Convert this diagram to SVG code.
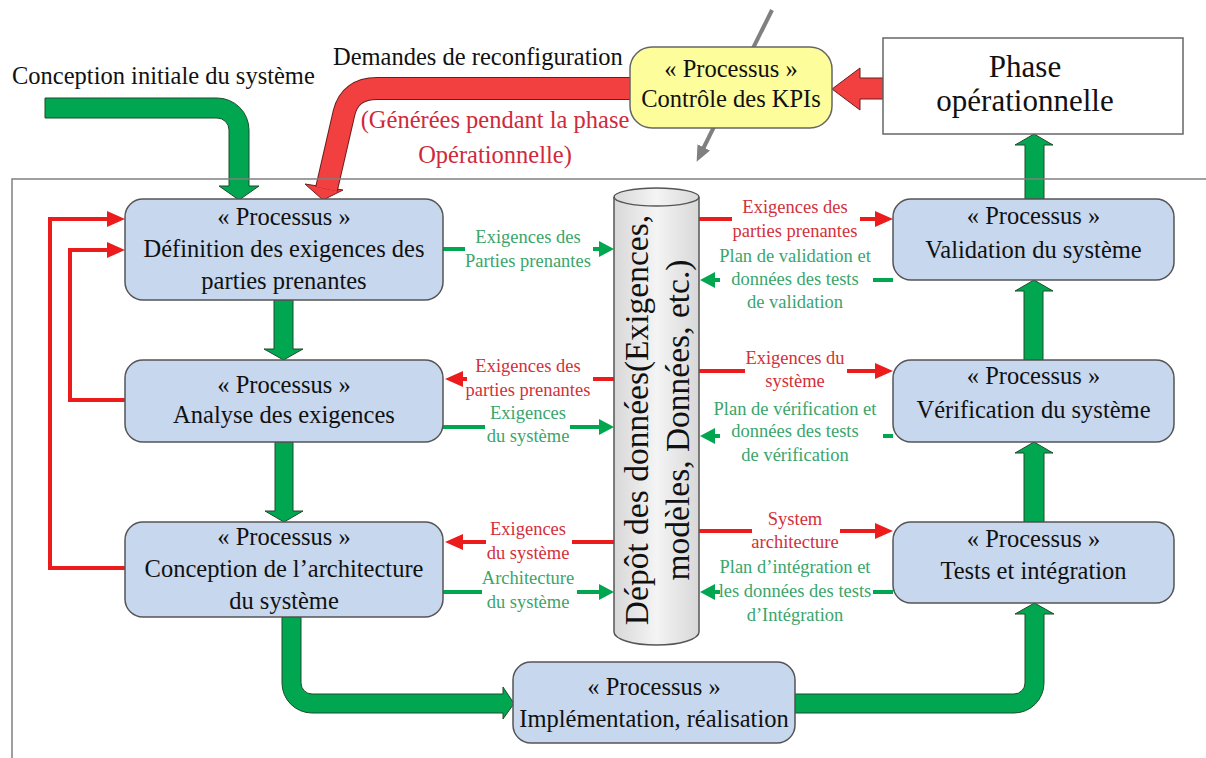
<svg xmlns="http://www.w3.org/2000/svg" width="1206" height="758" viewBox="0 0 1206 758">
<style>
text{font-family:"Liberation Serif","Times New Roman",serif}
.t{font-size:24.5px;fill:#111;text-anchor:middle}
.h{font-size:24.5px;fill:#111}
.hr{font-size:24.5px;fill:#cf2a3a;text-anchor:middle}
.ph{font-size:31px;fill:#111;text-anchor:middle}
.lg{font-size:18.5px;fill:#3aa56c;text-anchor:middle}
.lr{font-size:18.5px;fill:#d3303a;text-anchor:middle}
.cyl{font-size:33.5px;fill:#111;text-anchor:middle}
.node{fill:#c6d7ee;stroke:#555;stroke-width:1.5}
.gthick{fill:#00a650;stroke:#1f4d2a;stroke-width:1}
.rthick{fill:#f23f3f;stroke:#6a1f1f;stroke-width:1}
.rl{fill:none;stroke:#ec1c1c;stroke-width:4}
.gl{fill:none;stroke:#00a650;stroke-width:4}
.rla{fill:none;stroke:#ec1c1c;stroke-width:4;marker-end:url(#ar)}
.gla{fill:none;stroke:#00a650;stroke-width:4;marker-end:url(#ag)}
</style>
<defs>
<marker id="ar" viewBox="0 0 18 16" refX="5" refY="8" markerWidth="18" markerHeight="16" markerUnits="userSpaceOnUse" orient="auto"><path d="M0,0 L18,8 L0,16 Z" fill="#ec1c1c"/></marker>
<marker id="ag" viewBox="0 0 15 16" refX="4" refY="8" markerWidth="15" markerHeight="16" markerUnits="userSpaceOnUse" orient="auto"><path d="M0,0 L15,8 L0,16 Z" fill="#00a650"/></marker>
<marker id="agr" viewBox="0 0 16 14" refX="4" refY="7" markerWidth="16" markerHeight="14" markerUnits="userSpaceOnUse" orient="auto"><path d="M0,0 L16,7 L0,14 Z" fill="#808080"/></marker>
<linearGradient id="cylg" x1="0" y1="0" x2="1" y2="0"><stop offset="0" stop-color="#d8d8d8"/><stop offset="0.5" stop-color="#f4f4f4"/><stop offset="1" stop-color="#d8d8d8"/></linearGradient>
</defs>
<rect width="1206" height="758" fill="#fff"/>

<text class="h" x="12" y="84">Conception initiale du système</text>
<text class="h" x="333" y="65">Demandes de reconfiguration</text>
<text class="hr" x="495" y="128">(Générées pendant la phase</text>
<text class="hr" x="495" y="163">Opérationnelle)</text>

<g id="connectors">
<!-- thick arrows -->
<path class="gthick" d="M45,98 H217 A32,32 0 0 1 249,130 V186 H259 L239,200 L219,186 H229 V130 A12,12 0 0 0 217,118 H45 Z"/>
<polygon class="rthick" points="305,184 343,190 323,200"/>
<path d="M640,88.5 H377 Q350,88.5 344,113 L326.5,189" fill="none" stroke="#6a1f1f" stroke-width="23"/>
<path d="M640,88.5 H377 Q350,88.5 344,113 L326.5,189" fill="none" stroke="#f23f3f" stroke-width="21"/>
<polygon class="rthick" points="883,78 860,78 860,68 832,89 860,110 860,99 883,99"/>
<path d="M772,10 L702,151" fill="none" stroke="#808080" stroke-width="4" marker-end="url(#agr)"/>
<polygon class="gthick" points="274,300 293,300 293,349 303,349 283.5,360 264,349 274,349"/>
<polygon class="gthick" points="275,442 293,442 293,511 303,511 284,522 265,511 275,511"/>
<path class="gthick" d="M282,617 V683 A30,30 0 0 0 312,713 H503 V719 L514,703.5 L503,687 V694 H312 A11,11 0 0 1 301,683 V617 Z"/>
<path class="gthick" d="M795,694 H1014 A11,11 0 0 0 1025,683 V614 H1015 L1034.5,603 L1054,614 H1044 V683 A30,30 0 0 1 1014,713 H795 Z"/>
<polygon class="gthick" points="1024,522 1044,522 1044,453 1053,453 1034,442 1015,453 1024,453"/>
<polygon class="gthick" points="1024,360 1043,360 1043,291 1053,291 1034,280 1015,291 1024,291"/>
<polygon class="gthick" points="1025,199 1044,199 1044,145 1053,145 1034,134 1015,145 1025,145"/>
<!-- frame -->
<path d="M12,758 V179 H1206" fill="none" stroke="#808080" stroke-width="1.5"/>
<!-- feedback -->
<path class="rla" d="M125,568 H50 V219 H112"/>
<path class="rla" d="M125,400 H70 V250 H112"/>
<!-- left thin -->
<path class="gl" d="M443,249 H465"/><path class="gla" d="M593,249 H603"/>
<path class="rl" d="M593,379 H614"/><path class="rla" d="M467,379 H458"/>
<path class="gl" d="M443,427 H485"/><path class="gla" d="M570,427 H603"/>
<path class="rl" d="M572,542 H614"/><path class="rla" d="M486,542 H458"/>
<path class="gl" d="M443,592 H482"/><path class="gla" d="M577,592 H603"/>
<!-- right thin -->
<path class="rl" d="M698,219 H732"/><path class="rla" d="M860,219 H880"/>
<path class="gl" d="M873,280 H893"/><path class="gla" d="M720,280 H711"/>
<path class="rl" d="M698,371 H745"/><path class="rla" d="M847,371 H880"/>
<path class="gl" d="M883,436 H893"/><path class="gla" d="M720,436 H711"/>
<path class="rl" d="M698,531 H752"/><path class="rla" d="M840,531 H880"/>
<path class="gl" d="M873,592 H893"/><path class="gla" d="M720,592 H711"/>
<!-- labels -->
<text class="lg" x="528" y="243">Exigences des</text><text class="lg" x="528" y="267">Parties prenantes</text>
<text class="lr" x="528" y="372">Exigences des</text><text class="lr" x="528" y="396">parties prenantes</text>
<text class="lg" x="528" y="419">Exigences</text><text class="lg" x="528" y="442">du système</text>
<text class="lr" x="528" y="535">Exigences</text><text class="lr" x="528" y="559">du système</text>
<text class="lg" x="528" y="584">Architecture</text><text class="lg" x="528" y="608">du système</text>
<text class="lr" x="795" y="213">Exigences des</text><text class="lr" x="795" y="237">parties prenantes</text>
<text class="lg" x="795" y="262">Plan de validation et</text><text class="lg" x="795" y="285">données des tests</text><text class="lg" x="795" y="308">de validation</text>
<text class="lr" x="795" y="364">Exigences du</text><text class="lr" x="795" y="387">système</text>
<text class="lg" x="795" y="415">Plan de vérification et</text><text class="lg" x="795" y="437">données des tests</text><text class="lg" x="795" y="461">de vérification</text>
<text class="lr" x="795" y="525">System</text><text class="lr" x="795" y="548">architecture</text>
<text class="lg" x="795" y="573">Plan d’intégration et</text><text class="lg" x="795" y="597">les données des tests</text><text class="lg" x="795" y="621">d’Intégration</text>
</g>

<g id="kpi">
<rect x="630" y="47" width="202" height="81" rx="22" fill="#fdfd9c" stroke="#666" stroke-width="1.5"/>
<text class="t" x="731" y="77">« Processus »</text>
<text class="t" x="731" y="107">Contrôle des KPIs</text>
</g>
<g id="phase">
<rect x="883" y="38" width="300" height="96" fill="#fff" stroke="#666" stroke-width="1.5"/>
<text class="ph" x="1025" y="77">Phase</text>
<text class="ph" x="1025" y="111">opérationnelle</text>
</g>
<g id="n-definition">
<rect class="node" x="125" y="199" width="318" height="101" rx="18"/>
<text class="t" x="284" y="225">« Processus »</text>
<text class="t" x="284" y="257">Définition des exigences des</text>
<text class="t" x="284" y="289">parties prenantes</text>
</g>
<g id="n-analyse">
<rect class="node" x="125" y="360" width="318" height="82" rx="18"/>
<text class="t" x="284" y="393">« Processus »</text>
<text class="t" x="284" y="423">Analyse des exigences</text>
</g>
<g id="n-architecture">
<rect class="node" x="125" y="522" width="318" height="95" rx="18"/>
<text class="t" x="284" y="545">« Processus »</text>
<text class="t" x="284" y="577">Conception de l’architecture</text>
<text class="t" x="284" y="609">du système</text>
</g>
<g id="n-implementation">
<rect class="node" x="513" y="662" width="282" height="81" rx="18"/>
<text class="t" x="654" y="695">« Processus »</text>
<text class="t" x="654" y="727">Implémentation, réalisation</text>
</g>
<g id="n-tests">
<rect class="node" x="893" y="522" width="281" height="81" rx="18"/>
<text class="t" x="1033.5" y="547">« Processus »</text>
<text class="t" x="1033.5" y="579">Tests et intégration</text>
</g>
<g id="n-verification">
<rect class="node" x="893" y="360" width="281" height="82" rx="18"/>
<text class="t" x="1033.5" y="384">« Processus »</text>
<text class="t" x="1033.5" y="418">Vérification du système</text>
</g>
<g id="n-validation">
<rect class="node" x="893" y="199" width="281" height="81" rx="18"/>
<text class="t" x="1033.5" y="224">« Processus »</text>
<text class="t" x="1033.5" y="258">Validation du système</text>
</g>
<g id="depot">
<path d="M614,197 A42.5,9 0 0 1 699,197 V632 A42.5,13 0 0 1 614,632 Z" fill="url(#cylg)" stroke="#555" stroke-width="1.5"/>
<path d="M614,197 A42.5,9 0 0 0 699,197" fill="none" stroke="#555" stroke-width="1.5"/>
<text class="cyl" transform="translate(648,420) rotate(-90)">Dépôt des données(Exigences,</text>
<text class="cyl" transform="translate(689,420) rotate(-90)">modèles, Données, etc.)</text>
</g>
</svg>
